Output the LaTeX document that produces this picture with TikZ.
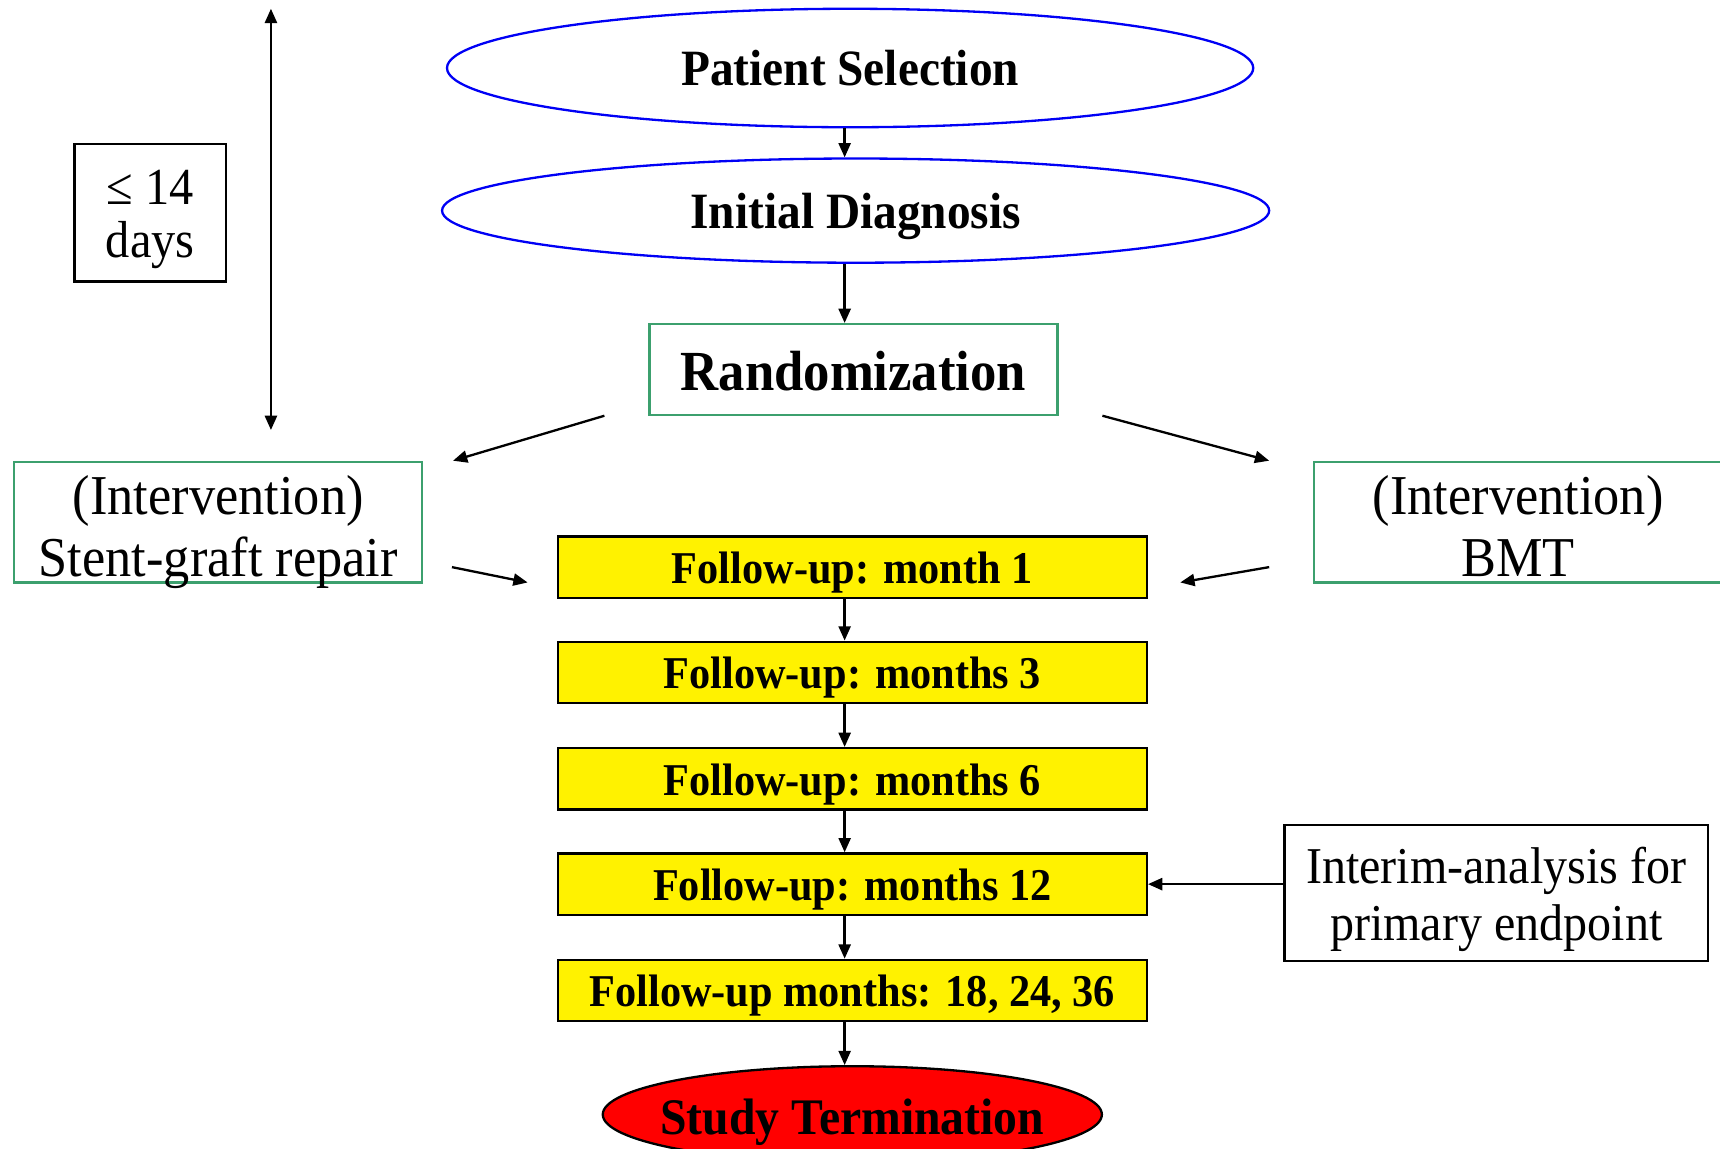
\documentclass[tikz,border=0pt]{standalone}
\usepackage{fontspec}
\setmainfont[FakeStretch=0.93]{Liberation Serif}
\usetikzlibrary{shapes.geometric,arrows.meta}

\definecolor{ovalblue}{RGB}{0,0,245}
\definecolor{boxgreen}{RGB}{60,160,110}

% text hung below the node centre, first baseline #1 down
\newcommand{\sinktext}[2]{\raisebox{-#1}[0pt][0pt]{\makebox[0pt]{\parbox[t]{12cm}{\centering\lineskiplimit=-20pt\relax #2}}}}

\begin{document}
\begin{tikzpicture}[x=0.1mm,y=-0.1mm, line width=0.6pt,
  >={Triangle[length=1.3mm,width=1.1mm]},
  oval/.style={ellipse, draw=ovalblue, inner sep=0pt,
    font=\fontsize{13.2}{15}\selectfont\bfseries},
  greenbox/.style={draw=boxgreen, minimum width=37.2mm, inner sep=0pt},
  fupbox/.style={draw=black, fill=yellow, minimum width=53.7mm, minimum height=5.6mm,
    inner sep=0pt, font=\fontsize{11.8}{13}\selectfont\bfseries},
  plainbox/.style={draw=black, inner sep=0pt}]

  \useasboundingbox (0,0) rectangle (1568,1047);
  \clip (0,0) rectangle (1568,1047);

  % main column
  \node[oval, minimum width=73.5mm, minimum height=10.8mm] (select) at (775,62) {\sinktext{1.6mm}{Patient Selection}};
  \node[oval, minimum width=75.4mm, minimum height=9.5mm] (diag) at (780,192) {\sinktext{1.6mm}{Initial Diagnosis}};
  \node[greenbox, minimum height=8.3mm, font=\fontsize{14.7}{16}\selectfont\bfseries] (random) at (778,337) {\sinktext{1.9mm}{Randomization}};

  \node[greenbox, minimum height=11mm, font=\fontsize{14.6}{16.2}\selectfont] (stent) at (199,476) {\sinktext{-0.7mm}{(Intervention)\\Stent-graft repair}};
  \node[greenbox, minimum height=11mm, font=\fontsize{14.6}{16.2}\selectfont] (bmt) at (1384,476) {\sinktext{-0.7mm}{(Intervention)\\BMT}};

  \node[fupbox] (fup1) at (777,517) {\sinktext{1.5mm}{Follow-up: month 1}};
  \node[fupbox] (fup3) at (777,613) {\sinktext{1.5mm}{Follow-up: months 3}};
  \node[fupbox] (fup6) at (777,710) {\sinktext{1.5mm}{Follow-up: months 6}};
  \node[fupbox] (fup12) at (777,806) {\sinktext{1.5mm}{Follow-up: months 12}};
  \node[fupbox] (fuplong) at (777,903) {\sinktext{1.5mm}{Follow-up months: 18, 24, 36}};

  \node[ellipse, draw=black, fill=red, inner sep=0pt, minimum width=45.5mm, minimum height=8.8mm,
    font=\fontsize{13.3}{15}\selectfont\bfseries] (stop) at (777,1016) {\sinktext{1.8mm}{Study Termination}};

  % side boxes
  \node[plainbox, minimum width=13.8mm, minimum height=12.5mm, font=\fontsize{13.5}{14}\selectfont] (days) at (137,194) {\sinktext{-0.8mm}{≤ 14\\days}};
  \node[plainbox, minimum width=38.6mm, minimum height=12.4mm, font=\fontsize{13.4}{14.8}\selectfont] (interim) at (1364,814) {\sinktext{-0.9mm}{Interim-analysis for\\primary endpoint}};

  % time span
  \coordinate (spantop) at (247,8);
  \coordinate (spanbot) at (247,392);
  \draw[<->] (spantop) -- (spanbot);

  % vertical flow
  \coordinate (axis) at (770,0);
  \draw[->] (select.south -| axis) -- (diag.north -| axis);
  \draw[->] (diag.south -| axis) -- (random.north -| axis);
  \draw[->] (fup1.south -| axis) -- (fup3.north -| axis);
  \draw[->] (fup3.south -| axis) -- (fup6.north -| axis);
  \draw[->] (fup6.south -| axis) -- (fup12.north -| axis);
  \draw[->] (fup12.south -| axis) -- (fuplong.north -| axis);
  \draw[->] (fuplong.south -| axis) -- (stop.north -| axis);

  % branches
  \coordinate (randL) at (551,379);
  \coordinate (stentin) at (413,420);
  \coordinate (randR) at (1005,379);
  \coordinate (bmtin) at (1157,420);
  \draw[->] (randL) -- (stentin);
  \draw[->] (randR) -- (bmtin);

  \coordinate (stentout) at (412,517);
  \coordinate (fupL) at (481,531);
  \coordinate (bmtout) at (1157,517);
  \coordinate (fupR) at (1076,531);
  \draw[->] (stentout) -- (fupL);
  \draw[->] (bmtout) -- (fupR);

  \draw[->] (interim.west |- fup12.east) -- (fup12.east);

\end{tikzpicture}
\end{document}
